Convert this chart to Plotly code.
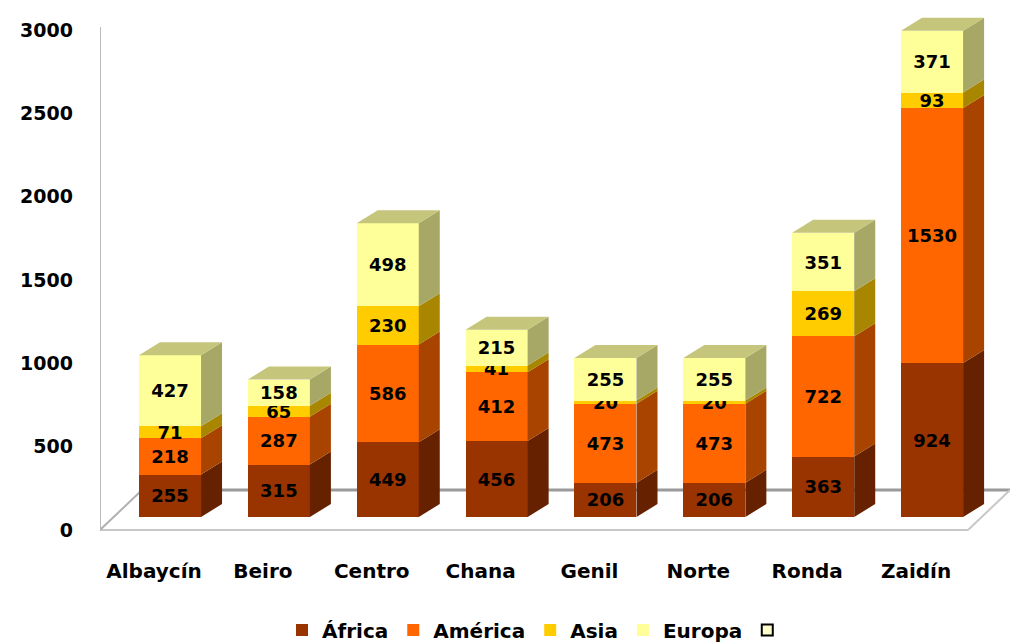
import plotly.graph_objects as go

categories = ["Albaycín", "Beiro", "Centro", "Chana", "Genil", "Norte", "Ronda", "Zaidín"]
africa = [255, 315, 449, 456, 206, 206, 363, 924]
america = [218, 287, 586, 412, 473, 473, 722, 1530]
asia = [71, 65, 230, 41, 20, 20, 269, 93]
europa = [427, 158, 498, 215, 255, 255, 351, 371]
series_names = ["África", "América", "Asia", "Europa"]
y_ticks = [0, 500, 1000, 1500, 2000, 2500, 3000]

front_colors = ["#993300", "#FF6600", "#FFCC00", "#FFFF99"]
side_colors = ["#662200", "#A84400", "#A88600", "#A8A866"]
top_color = "#C5C57B"

FONT = "DejaVu Sans, Verdana, sans-serif"
BAR_W = 0.57      # bar width (category units)
DX = 0.193        # 3D depth offset, x
DY = 78           # 3D depth offset, y (value units)
Y_RANGE = [-120, 3030]
X_RANGE = [-0.643, 7.716]
FLOOR_DX = 0.386
FLOOR_DY = 240
FLOOR_Y = -DY

xs = list(range(len(categories)))
all_series = [africa, america, asia, europa]

fig = go.Figure()

# front faces
for name, vals, col in zip(series_names, all_series, front_colors):
    fig.add_trace(go.Bar(
        x=xs, y=vals, width=BAR_W, name=name,
        marker=dict(color=col, line=dict(width=0)),
        text=[str(v) for v in vals], textposition="inside",
        insidetextanchor="middle", constraintext="none",
        textfont=dict(family=FONT, size=18, color="black", weight="bold"),
        hoverinfo="skip",
    ))

# side faces and tops, computed from data
bases = [0] * len(xs)
for k, (vals, scol) in enumerate(zip(all_series, side_colors)):
    px, py = [], []
    for i, v in enumerate(vals):
        b = bases[i]
        t = b + v
        xr = xs[i] + BAR_W / 2
        px += [xr, xr + DX, xr + DX, xr, xr, None]
        py += [b, b + DY, t + DY, t, b, None]
    fig.add_trace(go.Scatter(x=px, y=py, mode="lines", fill="toself",
                             fillcolor=scol, line=dict(width=0),
                             showlegend=False, hoverinfo="skip"))
    bases = [bases[i] + vals[i] for i in range(len(xs))]

tx, ty = [], []
for i, T in enumerate(bases):
    xl = xs[i] - BAR_W / 2
    xr = xs[i] + BAR_W / 2
    tx += [xl, xl + DX, xr + DX, xr, xl, None]
    ty += [T, T + DY, T + DY, T, T, None]
fig.add_trace(go.Scatter(x=tx, y=ty, mode="lines", fill="toself",
                         fillcolor=top_color, line=dict(width=0),
                         showlegend=False, hoverinfo="skip"))

# empty legend entry
fig.add_trace(go.Scatter(x=[None], y=[None], mode="markers", name=" ",
                         marker=dict(symbol="square", size=11, color="#FFFFCC",
                                     line=dict(color="black", width=2))))
# dummy trace for label axis
fig.add_trace(go.Scatter(x=[None], y=[None], yaxis="y2", showlegend=False,
                         hoverinfo="skip"))

# floor and wall lines
x0f = X_RANGE[0]
x1f = (968 - 170) / 108.86
shapes = [
    dict(type="line", x0=x0f, x1=x1f, y0=FLOOR_Y, y1=FLOOR_Y,
         line=dict(color="#C8C8C8", width=2), layer="below"),
    dict(type="line", x0=x0f + FLOOR_DX, x1=X_RANGE[1], y0=FLOOR_Y + FLOOR_DY,
         y1=FLOOR_Y + FLOOR_DY, line=dict(color="#9A9A9A", width=3), layer="below"),
    dict(type="line", x0=x0f, x1=x0f + FLOOR_DX, y0=FLOOR_Y, y1=FLOOR_Y + FLOOR_DY,
         line=dict(color="#B0B0B0", width=2), layer="below"),
    dict(type="line", x0=x1f, x1=x1f + FLOOR_DX, y0=FLOOR_Y, y1=FLOOR_Y + FLOOR_DY,
         line=dict(color="#C8C8C8", width=2), layer="below"),
    dict(type="line", x0=x0f, x1=x0f, y0=FLOOR_Y, y1=3000 - 60,
         line=dict(color="#BBBBBB", width=2), layer="below"),
]

fig.update_layout(
    width=1010, height=643,
    margin=dict(l=100, r=0, t=12, b=106, autoexpand=False),
    paper_bgcolor="white", plot_bgcolor="white",
    barmode="stack",
    uniformtext=dict(minsize=18, mode="show"),
    font=dict(family=FONT, color="black"),
    shapes=shapes,
    xaxis=dict(range=X_RANGE, tickvals=xs, ticktext=categories, automargin=False,
               showgrid=False, zeroline=False, showline=False,
               ticks="", ticklabelshift=-16, ticklabelstandoff=20,
               tickfont=dict(family=FONT, size=20, color="black", weight="bold")),
    yaxis=dict(range=Y_RANGE, showgrid=False, zeroline=False, showline=False,
               showticklabels=False, ticks="", automargin=False),
    yaxis2=dict(range=[Y_RANGE[0] + DY, Y_RANGE[1] + DY], overlaying="y",
                side="left", anchor="x", tickvals=y_ticks, automargin=False,
                showgrid=False, zeroline=False, showline=False, ticks="",
                ticklabelstandoff=26,
                tickfont=dict(family=FONT, size=19, color="black", weight="bold")),
    legend=dict(orientation="h", x=0.2, xanchor="left", y=-0.14, yanchor="top",
                traceorder="normal",
                font=dict(family=FONT, size=20, color="black", weight="bold"),
                itemwidth=30, tracegroupgap=0),
    showlegend=True,
)

fig.write_html(
    "out.html",
    config={"displayModeBar": False},
    post_script="document.body.style.margin='0';document.body.style.overflow='hidden';",
)
